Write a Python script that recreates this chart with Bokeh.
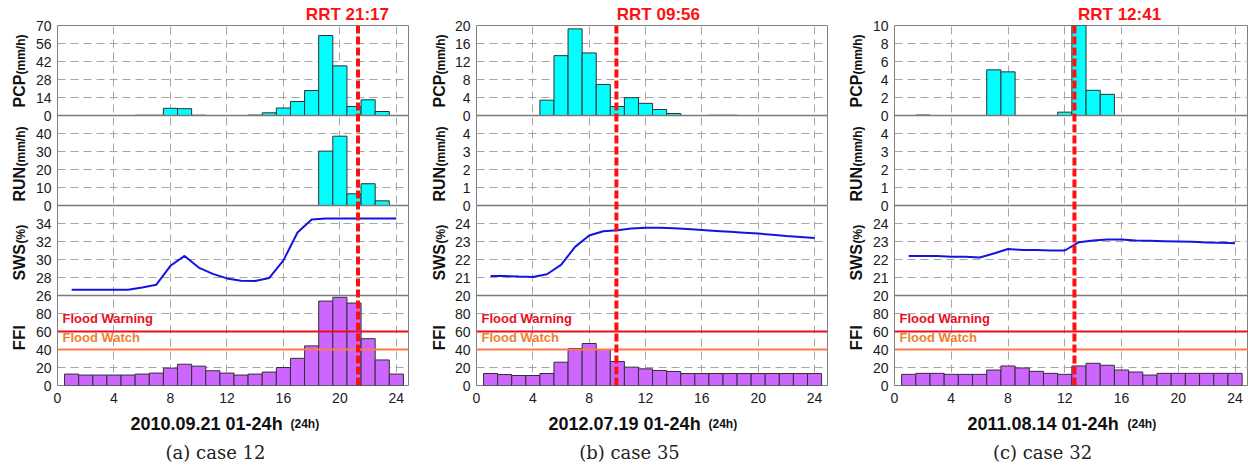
import math
from bokeh.plotting import figure
from bokeh.models import Range1d, FixedTicker, Span, Label
from bokeh.layouts import row, column
from bokeh.core.properties import value
from bokeh.embed import file_html
from bokeh.resources import INLINE

hours = list(range(1, 25))

# ---- case 12 : 2010.09.21 ----
pcp_a = [0, 0, 0, 0, 0, 0.2, 0.2, 5.6, 5.3, 0.2, 0, 0, 0, 0.3, 2.1, 5.8, 10.9, 19.4, 62.2, 38.6, 7.0, 12.2, 3.1, 0]
run_a = [0, 0, 0, 0, 0, 0, 0, 0, 0, 0, 0, 0, 0, 0, 0, 0, 0, 0, 30.2, 38.5, 6.5, 12.1, 2.6, 0]
sws_a = [26.63, 26.63, 26.63, 26.63, 26.63, 26.9, 27.2, 29.3, 30.4, 29.1, 28.4, 27.9,
         27.65, 27.6, 27.95, 29.9, 33.0, 34.45, 34.55, 34.55, 34.55, 34.55, 34.55, 34.55]
ffi_a = [12.7, 11.6, 11.6, 11.6, 11.6, 12.7, 13.8, 19.3, 23.6, 21.5, 16.4, 13.8,
         11.6, 12.7, 14.9, 20.0, 30.2, 44.0, 93.8, 98.0, 91.6, 52.0, 28.4, 12.7]
pcp_ticks_a = [0, 14, 28, 42, 56, 70]
run_ticks_a = [0, 10, 20, 30, 40, 50]
sws_ticks_a = [26, 28, 30, 32, 34, 36]
rrt_a = "21:17"

# ---- case 35 : 2012.07.19 ----
pcp_b = [0, 0, 0, 0, 3.4, 13.3, 19.25, 13.9, 6.9, 2.0, 3.96, 2.7, 1.34, 0.45, 0, 0, 0.05, 0.05, 0, 0, 0, 0, 0, 0]
run_b = [0] * 24
sws_b = [21.09, 21.08, 21.05, 21.03, 21.18, 21.7, 22.7, 23.33, 23.57, 23.63, 23.72, 23.76,
         23.76, 23.73, 23.69, 23.64, 23.59, 23.54, 23.49, 23.44, 23.37, 23.30, 23.25, 23.2]
ffi_b = [13.3, 12.2, 11.1, 11.1, 13.3, 25.9, 41.1, 46.7, 40.0, 26.7, 20.4, 18.5,
         16.7, 15.6, 13.3, 13.3, 13.3, 13.3, 13.3, 13.3, 13.3, 13.3, 13.3, 13.3]
pcp_ticks_b = [0, 4, 8, 12, 16, 20]
run_ticks_b = [0, 1, 2, 3, 4, 5]
sws_ticks_b = [20, 21, 22, 23, 24, 25]
rrt_b = "09:56"

# ---- case 32 : 2011.08.14 ----
pcp_c = [0, 0.05, 0, 0, 0, 0, 5.07, 4.85, 0, 0, 0, 0.37, 10.0, 2.8, 2.35, 0, 0, 0, 0, 0, 0, 0, 0, 0]
run_c = [0] * 24
sws_c = [22.2, 22.2, 22.2, 22.15, 22.15, 22.11, 22.33, 22.58, 22.53, 22.53, 22.5, 22.5,
         22.96, 23.06, 23.11, 23.11, 23.06, 23.04, 23.02, 23.0, 22.98, 22.95, 22.93, 22.9]
ffi_c = [12.4, 13.5, 13.5, 12.4, 12.4, 12.4, 17.2, 21.7, 19.5, 15.7, 13.5, 12.4,
         21.7, 24.7, 22.5, 17.2, 15.0, 11.6, 13.5, 13.5, 13.5, 13.5, 13.5, 13.5]
pcp_ticks_c = [0, 2, 4, 6, 8, 10]
run_ticks_c = [0, 1, 2, 3, 4, 5]
sws_ticks_c = [20, 21, 22, 23, 24, 25]
rrt_c = "12:41"

ffi_ticks = [0, 20, 40, 60, 80, 100]
x_ticks = [0, 4, 8, 12, 16, 20, 24]
flood_warning = 60
flood_watch = 40

FONT = "Liberation Sans"
GRID = "#a6a6a6"
INK = "#111111"
AXW = 24  # space kept for the y tick labels


def stacked(ticks, k):
    lo, hi = ticks[0], ticks[-1]
    span = hi - lo
    return Range1d(lo - k * span, hi + (3 - k) * span)


def hm(s):
    h, m = s.split(":")
    return int(h) + int(m) / 60.0


def strip(width, height, x_range, y_range, **borders):
    f = figure(width=width, height=height, x_range=x_range, y_range=y_range,
               x_axis_type=None, y_axis_type=None, output_backend="svg",
               toolbar_location=None, min_border_left=borders.get("left", 0),
               min_border_right=borders.get("right", 0), min_border_top=borders.get("top", 0),
               min_border_bottom=borders.get("bottom", 0), frame_align=False)
    f.outline_line_color = None
    f.background_fill_color = "white"
    f.border_fill_color = "white"
    f.grid.visible = False
    return f


def panel(width, left, right, x_end, pcp, run, sws, ffi, pcp_t, run_t, sws_t,
          rrt, rrt_dx, date, cap, lab_x, date_x, cap_x):
    lw = left - AXW
    xr = Range1d(0, x_end)
    yr = Range1d(0, 400)
    t_rrt = hm(rrt)
    frame_w = width - left - right
    p = figure(width=width - lw, height=410, x_range=xr, y_range=yr,
               output_backend="svg", toolbar_location=None,
               min_border_left=AXW, min_border_right=right,
               min_border_top=25, min_border_bottom=25, frame_align=False)
    p.outline_line_color = "#808080"
    p.outline_line_width = 1
    p.background_fill_color = "white"
    p.border_fill_color = "white"

    # RRT text as the plot title, placed over the RRT line
    p.title.text = "RRT " + rrt
    p.title.align = "left"
    p.title.offset = t_rrt * frame_w / x_end + rrt_dx
    p.title.standoff = 3
    p.title.text_font = FONT
    p.title.text_font_style = "bold"
    p.title.text_font_size = "17px"
    p.title.text_color = "#ff1010"

    tick_sets = [ffi_ticks, sws_t, run_t, pcp_t]
    names = ["ffi", "sws", "run", "pcp"]
    p.extra_y_ranges = {n: stacked(t, k) for k, (n, t) in enumerate(zip(names, tick_sets))}

    positions = []
    overrides = {}
    for k, t in enumerate(tick_sets):
        lo, hi = t[0], t[-1]
        for v in t:
            pos = int(round(100 * k + (v - lo) / (hi - lo) * 100))
            positions.append(pos)
            lab = ("%g" % v)
            overrides[pos] = lab
            overrides[str(pos)] = lab
    positions = sorted(set(positions))
    p.yaxis.ticker = FixedTicker(ticks=positions)
    p.yaxis.major_label_overrides = overrides
    p.xaxis.ticker = FixedTicker(ticks=x_ticks)
    for ax in (p.xaxis, p.yaxis):
        ax.axis_line_color = None
        ax.major_tick_line_color = None
        ax.minor_tick_line_color = None
        ax.major_tick_out = 0
        ax.major_tick_in = 0
        ax.minor_tick_out = 0
        ax.minor_tick_in = 0
        ax.major_label_text_font = FONT
        ax.major_label_text_font_size = "14px"
        ax.major_label_text_color = "#1a1a1a"
    p.yaxis.major_label_standoff = 6
    p.xaxis.major_label_standoff = 7

    p.xgrid.ticker = FixedTicker(ticks=[t for t in x_ticks if t > 0])
    p.ygrid.ticker = FixedTicker(ticks=[t for t in positions if t % 100 != 0])
    for g in (p.xgrid, p.ygrid):
        g.grid_line_color = GRID
        g.grid_line_dash = "8 5"
        g.grid_line_width = 1

    xs = [h for h, v in zip(hours, pcp) if v > 0]
    ys = [v for v in pcp if v > 0]
    p.vbar(x=xs, top=ys, bottom=0, width=1, y_range_name="pcp",
           fill_color="#00ffff", line_color="#303030", line_width=1)
    xs = [h for h, v in zip(hours, run) if v > 0]
    ys = [v for v in run if v > 0]
    if xs:
        p.vbar(x=xs, top=ys, bottom=0, width=1, y_range_name="run",
               fill_color="#00ffff", line_color="#303030", line_width=1)
    p.line(hours, sws, y_range_name="sws", line_color="#1414e0", line_width=2)
    p.vbar(x=hours, top=ffi, bottom=0, width=1, y_range_name="ffi",
           fill_color="#cc66ff", line_color="#303030", line_width=1)

    for loc in (100, 200, 300):
        p.add_layout(Span(location=loc, dimension="width", line_color="#7a7a7a", line_width=1.5))

    p.add_layout(Span(location=flood_warning, dimension="width", y_range_name="ffi",
                      line_color="#e8101e", line_width=2))
    p.add_layout(Span(location=flood_watch, dimension="width", y_range_name="ffi",
                      line_color="#ff7a4a", line_width=2))
    p.add_layout(Label(x=0, y=flood_warning, y_range_name="ffi", x_offset=5, y_offset=6,
                       text="Flood Warning", text_font=FONT, text_font_style="bold",
                       text_font_size="13px", text_color="#e8101e"))
    p.add_layout(Label(x=0, y=flood_watch, y_range_name="ffi", x_offset=5, y_offset=5,
                       text="Flood Watch", text_font=FONT, text_font_style="bold",
                       text_font_size="13px", text_color="#f08030"))

    p.add_layout(Span(location=t_rrt, dimension="height", line_color="#ff1010",
                      line_width=4, line_dash="8 3"))

    # left strip: rotated y labels (window pixel coordinates)
    ls = strip(lw, 410, Range1d(0, lw), Range1d(385, 25), top=25, bottom=25)
    big = [("PCP", 107, "16px"), ("RUN", 201, "16px"), ("SWS", 280, "16px"), ("FFI", 350, "17px")]
    small = [("(mm/h)", 74), ("(mm/h)", 166), ("(%)", 243)]
    for txt, py, fs in big:
        ls.text(x=[lab_x], y=[py], text=[txt], angle=math.pi / 2,
                text_font=value(FONT), text_font_style="bold", text_font_size=fs,
                text_color=INK, text_align="left", text_baseline="middle")
    for txt, py in small:
        ls.text(x=[lab_x + 1.5], y=[py], text=[txt], angle=math.pi / 2,
                text_font=value(FONT), text_font_style="bold", text_font_size="12px",
                text_color=INK, text_align="left", text_baseline="middle")

    # bottom strip: axis title and caption (window pixel coordinates)
    bs = strip(width, 55, Range1d(0, width), Range1d(465, 410))
    bs.text(x=[date_x], y=[423], text=[date + " 01-24h"],
            text_font=value(FONT), text_font_style="bold", text_font_size="18px",
            text_color=INK, text_align="left", text_baseline="alphabetic")
    bs.text(x=[date_x + 160], y=[423], text=["(24h)"],
            text_font=value(FONT), text_font_style="bold", text_font_size="12px",
            text_color=INK, text_align="left", text_baseline="alphabetic")
    bs.text(x=[cap_x], y=[452], text=[cap],
            text_font=value("DejaVu Serif"), text_font_size="18px",
            text_color="#222222", text_align="center", text_baseline="middle")

    return column(row(ls, p, spacing=0), bs, spacing=0)


pa = panel(415, 56, 7, 24.86, pcp_a, run_a, sws_a, ffi_a, pcp_ticks_a, run_ticks_a, sws_ticks_a,
           rrt_a, -53, "2010.09.21", "(a) case 12", 18.5, 130, 215)
pb = panel(415, 60, 3, 24.92, pcp_b, run_b, sws_b, ffi_b, pcp_ticks_b, run_ticks_b, sws_ticks_b,
           rrt_b, 0, "2012.07.19", "(b) case 35", 23.5, 133, 214)
pc = panel(418, 63, 0, 24.95, pcp_c, run_c, sws_c, ffi_c, pcp_ticks_c, run_ticks_c, sws_ticks_c,
           rrt_c, 3, "2011.08.14", "(c) case 32", 25.5, 137, 212)

layout = row(pa, pb, pc, spacing=0)
open("out.html", "w").write(file_html(layout, INLINE))
